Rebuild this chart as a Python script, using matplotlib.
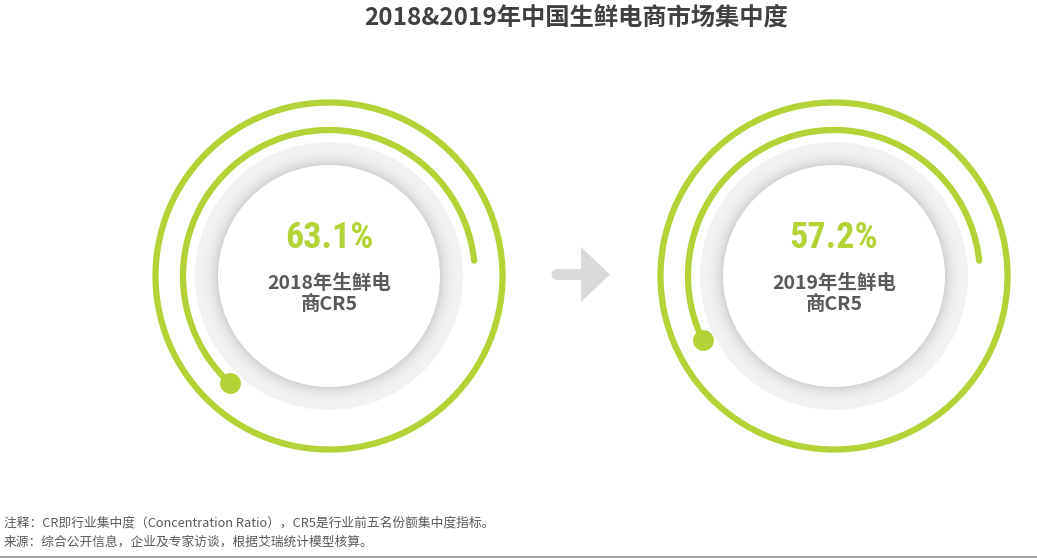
import numpy as np
import matplotlib.pyplot as plt
from matplotlib.patches import Circle, FancyArrow

# ---------------------------------------------------------
# Datos
# ---------------------------------------------------------
anios = ["2018", "2019"]
cr5 = [63.1, 57.2]
etiquetas = ["2018年生鲜电\n商CR5", "2019年生鲜电\n商CR5"]

titulo = "2018&2019年中国生鲜电商市场集中度"
nota = "注释：CR即行业集中度（Concentration Ratio），CR5是行业前五名份额集中度指标。"
fuente = "来源：综合公开信息，企业及专家访谈，根据艾瑞统计模型核算。"

verde = "#b2d235"
gris_texto = "#595959"

plt.rcParams["font.family"] = ["Noto Sans CJK SC", "DejaVu Sans"]

W, H = 1037, 558
fig = plt.figure(figsize=(W / 100, H / 100), dpi=100)
ax = fig.add_axes([0, 0, 1, 1])
ax.set_xlim(0, W)
ax.set_ylim(0, H)
ax.axis("off")

centros_x = [329, 834]
cy = 282
r_ext, r_arco = 173.5, 146
r_gris, r_blanco = 134, 111

fuente_num = ["Roboto Condensed", "Open Sans Condensed", "DejaVu Sans"]

for cx, valor, etiqueta in zip(centros_x, cr5, etiquetas):
    # anillo exterior completo
    ax.add_patch(Circle((cx, cy), r_ext, fill=False, ec=verde, lw=4.5))

    # disco gris con sombra interior
    n = 30
    for i, r in enumerate(np.linspace(r_gris, r_blanco, n)):
        t = i / (n - 1)
        g = 0.95 - 0.13 * t ** 3
        ax.add_patch(Circle((cx, cy), r, fc=(g, g, g), ec="none"))
    ax.add_patch(Circle((cx, cy), r_blanco, fc="white", ec="none"))

    # arco proporcional al valor
    fin = np.radians(360 * valor / 100)
    th = np.linspace(np.radians(6), fin, 300)
    ax.plot(cx + r_arco * np.cos(th), cy + r_arco * np.sin(th),
            color=verde, lw=4.5, solid_capstyle="round")
    ax.plot(cx + r_arco * np.cos(fin), cy + r_arco * np.sin(fin),
            marker="o", ms=15, color=verde, mec="none")

    ax.text(cx, 320, f"{valor}%", ha="center", va="center", fontsize=26,
            fontweight="bold", fontstretch="condensed", color=verde,
            family=fuente_num)
    ax.text(cx, 264, etiqueta, ha="center", va="center", fontsize=14,
            fontweight="bold", color=gris_texto, linespacing=1.15)

# flecha central
ax.add_patch(FancyArrow(557, 283.5, 53, 0, width=11, head_width=55,
                        head_length=29, length_includes_head=True,
                        color="#d9d9d9", lw=0))
ax.add_patch(Circle((557, 283.5), 5.5, fc="#d9d9d9", ec="none"))

ax.text(576, 540, titulo, ha="center", va="center", fontsize=17.5,
        fontweight="bold", color="#404040")
ax.text(4, 35, nota, ha="left", va="center", fontsize=9.2, color=gris_texto)
ax.text(4, 16, fuente, ha="left", va="center", fontsize=9.2, color=gris_texto)
ax.plot([0, W], [1, 1], color="#a6a6a6", lw=1.5)

fig.savefig("out.png", dpi=100, facecolor="white")
